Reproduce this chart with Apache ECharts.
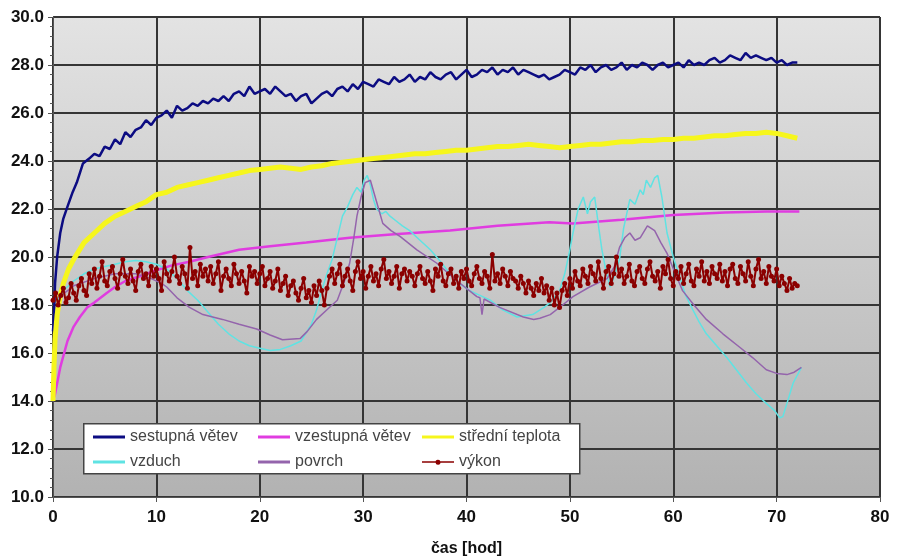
<!DOCTYPE html>
<html>
<head>
<meta charset="utf-8">
<script src="https://cdn.jsdelivr.net/npm/echarts@6/dist/echarts.min.js"></script>
<style>
html,body{margin:0;padding:0;background:#fff;}
#c{width:898px;height:557px;}
</style>
</head>
<body>
<div id="c"></div>
<script>
// ---- data ----
const seriesNames = ['sestupná větev','vzestupná větev','střední teplota','vzduch','povrch','výkon'];
const xTicks = [0,10,20,30,40,50,60,70,80];
const yTicks = [10,12,14,16,18,20,22,24,26,28,30];

// sestupná větev: early fast rise (explicit times), then noisy samples every 0.5 h from 3.5 h
const sestupnaEarlyT = [0, 0.1, 0.2, 0.4, 0.7, 1.0, 1.4, 1.9, 2.3, 2.9];
const sestupnaEarlyV = [16.9, 17.6, 18.9, 20.0, 21.0, 21.6, 22.1, 22.7, 23.1, 23.9];
const sestupnaStart = 3.5, sestupnaStep = 0.5;
const sestupnaV = [
 24.1,24.3,24.2,24.6,24.5,24.9,24.7,25.2,25.0,25.3,25.4,25.7,25.5,25.8,25.9,26.1,25.8,26.3,26.1,26.2,
 26.4,26.3,26.5,26.4,26.6,26.5,26.7,26.5,26.8,26.9,26.7,27.1,26.8,26.9,27.0,26.8,27.1,26.9,26.7,26.8,
 26.5,26.7,26.8,26.4,26.6,26.8,26.9,26.7,27.0,27.1,26.9,27.2,27.0,27.3,27.2,27.1,27.4,27.3,27.2,27.5,
 27.3,27.4,27.6,27.3,27.5,27.4,27.7,27.5,27.4,27.6,27.7,27.4,27.6,27.8,27.5,27.6,27.8,27.7,27.9,27.6,
 27.8,27.7,27.9,27.6,27.8,27.7,27.6,27.5,27.6,27.4,27.5,27.6,27.8,27.7,27.6,27.9,27.8,28.0,27.7,27.9,
 28.0,27.8,27.9,28.1,27.8,28.0,27.9,28.1,28.0,27.8,28.0,28.1,27.9,28.0,28.1,27.9,28.2,28.0,28.1,28.0,
 28.2,28.3,28.1,28.2,28.4,28.3,28.2,28.5,28.3,28.4,28.3,28.2,28.3,28.1,28.2,28.0,28.1,28.1
];

// vzestupná větev
const vzestupnaT = [0,0.2,0.7,1.4,2.0,2.6,3.3,4.0,5.2,6.0,7.0,8.4,10,11.5,13.2,15,18,21,24.5,28.7,33,38.4,43,48,50.3,55,60,65,69,72.2];
const vzestupnaV = [14.0,14.3,15.4,16.5,17.1,17.5,17.9,18.1,18.5,18.75,19.0,19.2,19.45,19.65,19.8,20.0,20.3,20.45,20.6,20.8,20.95,21.1,21.3,21.45,21.4,21.55,21.75,21.85,21.9,21.9];

// střední teplota
const stredniT = [0,0.1,0.2,0.4,0.7,1.0,1.5,2.0,3.0,4.0,5.0,6.0,7.0,8.0,9.0,10,11,12,13,14,15,16,17,18,19,20,21,22,23,24,25,26,27,28,29,30,31,32,33,34,35,36,37,38,39,40,41,42,43,44,45,46,47,48,49,50,51,52,53,54,55,56,57,58,59,60,61,62,63,64,65,66,67,68,69,70,71,72];
const stredniV = [14.0,15.5,16.6,17.6,18.4,18.9,19.5,19.9,20.6,21.0,21.4,21.7,21.9,22.1,22.3,22.6,22.7,22.9,23.0,23.1,23.2,23.3,23.4,23.5,23.6,23.65,23.7,23.75,23.7,23.65,23.75,23.8,23.9,23.95,24.0,24.05,24.1,24.15,24.2,24.25,24.3,24.3,24.35,24.4,24.45,24.45,24.5,24.55,24.6,24.6,24.65,24.7,24.65,24.6,24.55,24.6,24.65,24.7,24.7,24.75,24.8,24.8,24.85,24.85,24.9,24.9,24.95,24.95,25.0,25.05,25.05,25.1,25.15,25.15,25.2,25.15,25.05,24.95];

// vzduch
const vzduchT = [0.5,1,2,3,4,5,6,7,8,9,10,11,12,13,14,15,16,17,18,19,20,21,22,23,24,25,25.5,26,26.5,27,27.5,28,28.5,29,29.4,29.8,30.1,30.4,30.7,31,31.3,31.8,32.2,32.6,33.2,33.8,34.5,35.5,36.5,37.5,38.4,39.3,40.3,41.3,42.3,43.5,44.9,46.4,47.5,48.1,49,49.5,50,50.3,50.8,51.3,51.7,52.0,52.4,52.8,53.1,53.5,53.9,54.3,54.8,55.2,55.8,56.3,56.8,57.1,57.4,57.8,58.2,58.5,58.9,59.4,60.0,60.6,61.2,61.9,62.5,63.2,64.2,65.2,66.1,67.1,68,69,69.8,70.3,70.6,71,71.6,72.4];
const vzduchV = [18.2,18.6,19.0,19.3,19.5,19.6,19.7,19.8,19.85,19.8,19.7,19.5,19.1,18.6,18.2,17.7,17.2,16.8,16.5,16.3,16.2,16.1,16.15,16.3,16.5,17.2,17.8,18.6,19.3,19.9,20.8,21.7,22.1,22.6,22.9,22.7,23.2,23.4,23.0,22.4,22.0,21.8,21.9,21.7,21.5,21.3,21.1,20.7,20.3,19.8,19.3,18.9,18.6,18.4,18.2,17.8,17.5,17.6,17.9,18.1,18.6,19.3,20.3,21.0,22.0,22.5,21.8,22.3,22.5,21.2,20.3,19.4,18.75,19.2,19.9,21.2,22.4,22.2,22.8,22.6,23.2,22.9,23.3,23.4,22.5,21.0,20.0,19.2,18.4,17.8,17.3,16.8,16.3,15.8,15.3,14.75,14.3,13.9,13.6,13.3,13.35,13.9,14.75,15.4];

// povrch
const povrchT = [0.5,2,4,6,8,9.5,10.5,11,12,13.2,14.5,16.4,18,19.7,21,22.2,23.9,24.6,25.5,26.5,27.5,28.2,28.7,29.1,29.4,29.8,30.2,30.7,31.3,31.9,32.7,33.6,35.2,37.1,39.1,41,41.3,41.5,41.7,43.2,45.5,46.5,47.1,48.1,49.3,50.3,51.9,53.6,54.3,54.8,55.3,55.8,56.3,56.8,57.5,58.2,58.8,59.4,60.2,60.9,62,63.2,64.8,66.4,67.7,69,70,71,71.7,72.4];
const povrchV = [18.3,18.8,19.1,19.3,19.3,19.1,18.9,18.75,18.3,17.9,17.6,17.4,17.2,17.0,16.75,16.55,16.6,16.9,17.4,17.8,18.2,19.0,19.75,20.8,21.7,22.5,23.1,23.2,22.3,21.4,21.1,20.85,20.3,19.75,19.0,18.35,18.3,17.6,18.25,17.9,17.5,17.4,17.45,17.6,18.0,18.35,18.75,19.1,19.6,20.4,20.8,21.0,20.7,20.8,21.3,21.1,20.6,20.15,19.3,18.6,18.0,17.4,16.8,16.25,15.8,15.3,15.15,15.1,15.2,15.4];

// výkon: samples every 0.25 h from 0 h
const vykonStart = 0, vykonStep = 0.25;
const vykonV = [
 18.2,18.5,18.0,18.4,18.7,18.1,18.3,18.9,18.5,18.2,18.8,19.1,18.6,18.4,19.3,18.9,19.5,18.7,19.2,19.8,
 19.0,18.8,19.4,19.6,19.1,18.7,19.3,19.9,19.2,18.9,19.5,19.0,18.6,19.4,19.7,19.1,19.3,18.8,19.6,19.2,
 19.5,19.1,18.6,19.8,19.3,19.0,19.4,20.0,19.2,18.9,19.6,19.3,18.7,20.4,19.1,19.4,18.8,19.7,19.2,19.5,
 19.0,19.6,18.9,19.3,19.8,18.6,19.2,19.5,19.1,18.8,19.7,19.3,18.9,19.4,19.0,18.5,19.6,19.2,19.4,18.9,
 19.3,19.6,18.8,19.1,19.4,18.7,19.0,19.5,18.6,18.9,19.2,18.4,18.8,19.0,18.5,18.2,18.7,19.1,18.3,18.6,
 18.1,18.8,18.4,19.0,18.6,18.0,18.7,19.2,19.5,18.9,19.3,19.7,18.8,19.2,19.5,19.0,18.6,19.4,19.8,19.1,
 19.4,18.7,19.2,19.6,19.0,19.3,18.8,19.5,19.9,19.1,19.4,18.9,19.2,19.6,18.7,19.3,19.5,19.0,19.4,19.2,
 18.8,19.3,19.6,19.1,18.9,19.4,19.0,18.6,19.5,19.2,19.7,19.0,18.8,19.3,19.5,18.9,19.2,18.7,19.4,19.1,
 19.5,19.0,18.8,19.3,19.6,19.1,18.9,19.4,19.2,18.7,20.1,19.0,19.3,18.9,19.5,19.2,18.8,19.4,19.1,19.0,
 18.7,19.2,18.9,18.5,19.0,18.7,18.4,18.9,18.6,19.1,18.5,18.8,18.2,18.7,18.0,18.5,17.9,18.6,18.9,18.4,
 19.1,18.7,19.4,19.0,18.8,19.5,19.2,18.9,19.6,19.3,19.0,19.8,19.1,18.7,19.4,19.6,18.9,19.3,20.0,19.2,
 19.5,18.9,19.2,19.7,19.0,18.8,19.4,19.6,19.1,18.9,19.5,19.8,19.2,19.0,19.4,18.7,19.6,19.3,19.9,19.1,
 18.8,19.4,19.1,19.6,18.9,19.3,19.7,19.0,18.8,19.5,19.2,19.8,19.0,19.4,18.9,19.6,19.3,19.1,19.7,19.0,
 19.4,18.8,19.5,19.7,19.1,18.9,19.6,19.3,19.0,19.8,19.2,18.8,19.5,19.9,19.1,19.4,18.9,19.6,19.2,19.0,
 19.5,18.8,19.2,18.9,18.6,19.1,18.7,18.9,18.8
];

// ---- build pairs ----
function zip(t, v){ return v.map((y,i)=>[t[i], y]); }
function stepped(start, step, v){ return v.map((y,i)=>[start + i*step, y]); }

const sestupnaData = zip(sestupnaEarlyT, sestupnaEarlyV).concat(stepped(sestupnaStart, sestupnaStep, sestupnaV));
const vzestupnaData = zip(vzestupnaT, vzestupnaV);
const stredniData = zip(stredniT, stredniV);
const vzduchData = zip(vzduchT, vzduchV);
const povrchData = zip(povrchT, povrchV);
const vykonData = stepped(vykonStart, vykonStep, vykonV);

const colors = ['#0c0c82','#e03ce0','#f6f61c','#5fe3e3','#9464ac','#8b0000'];

const chart = echarts.init(document.getElementById('c'), null, {renderer:'canvas'});

const labelFont = {fontFamily:"'Liberation Sans Narrow','Arial Narrow','Liberation Sans',sans-serif", fontWeight:'bold', fontSize:17, color:'#111'};
const legendText = {fontFamily:"'Liberation Sans',Arial,sans-serif", fontSize:16, color:'#444'};

// legend swatch icons (bounding box fixed to 32x14 via the two leading moveTo points)
const iconLine = 'path://M0,0M32,14M0,5.5L32,5.5L32,8.5L0,8.5Z';
const iconLineDot = 'path://M0,0M32,14M0,6.3L32,6.3L32,7.7L0,7.7Z M18.5,7A2.5,2.5 0 1 1 18.49,6.9Z';

function lineSeries(idx, data, width, extra){
  return Object.assign({
    name: seriesNames[idx], type:'line', data: data, symbol:'none', showSymbol:false,
    lineStyle:{color:colors[idx], width:width}, itemStyle:{color:colors[idx]},
    emphasis:{disabled:true}, animation:false, z: 2+idx
  }, extra||{});
}

function legendCol(left, names){
  return {
    left:left, top:429, orient:'vertical', itemWidth:32, itemHeight:14, itemGap:9,
    data:names.map(n=>({name:n, icon: n===seriesNames[5] ? iconLineDot : iconLine})),
    textStyle:legendText, selectedMode:false, padding:0, z:20
  };
}

chart.setOption({
  animation:false,
  backgroundColor:'#ffffff',
  grid:{
    left:53, right:18, top:17, bottom:60, show:true, borderWidth:0,
    outerBoundsMode:'none', containLabel:false,
    backgroundColor: new echarts.graphic.LinearGradient(0,0,0,1,[
      {offset:0, color:'#e3e3e3'},{offset:1, color:'#b2b2b2'}])
  },
  xAxis:{
    type:'value', min:0, max:80, interval:10,
    axisLine:{show:true, lineStyle:{color:'#555', width:1}},
    axisTick:{show:true, length:5, lineStyle:{color:'#555'}},
    axisLabel:Object.assign({margin:12, formatter:v=>String(v)}, labelFont),
    splitLine:{show:true, lineStyle:{color:'#353535', width:2}},
    name:'čas [hod]', nameLocation:'middle', nameGap:44,
    nameTextStyle:{fontFamily:"'Liberation Sans',Arial,sans-serif", fontWeight:'bold', fontSize:16, color:'#111'}
  },
  yAxis:{
    type:'value', min:10, max:30, interval:2,
    axisLine:{show:true, lineStyle:{color:'#555', width:1}},
    axisTick:{show:true, length:5, lineStyle:{color:'#555'}},
    minorTick:{show:true, splitNumber:5, length:3, lineStyle:{color:'#555'}},
    axisLabel:Object.assign({margin:9, formatter:v=>v.toFixed(1)}, labelFont),
    splitLine:{show:true, lineStyle:{color:'#353535', width:2}}
  },
  legend:[
    legendCol(93, [seriesNames[0], seriesNames[3]]),
    legendCol(258, [seriesNames[1], seriesNames[4]]),
    legendCol(422, [seriesNames[2], seriesNames[5]])
  ],
  graphic:[{
    type:'rect', left:83, top:423, z:15,
    shape:{width:496, height:50},
    style:{fill:'#ffffff', stroke:'#444', lineWidth:1.5}
  }],
  series:[
    lineSeries(0, sestupnaData, 2.5),
    lineSeries(1, vzestupnaData, 2.5),
    lineSeries(2, stredniData, 5),
    lineSeries(3, vzduchData, 1.5),
    lineSeries(4, povrchData, 1.5),
    lineSeries(5, vykonData, 2, {symbol:'circle', symbolSize:5, showSymbol:true,
      itemStyle:{color:colors[5]}})
  ]
});
</script>
</body>
</html>
